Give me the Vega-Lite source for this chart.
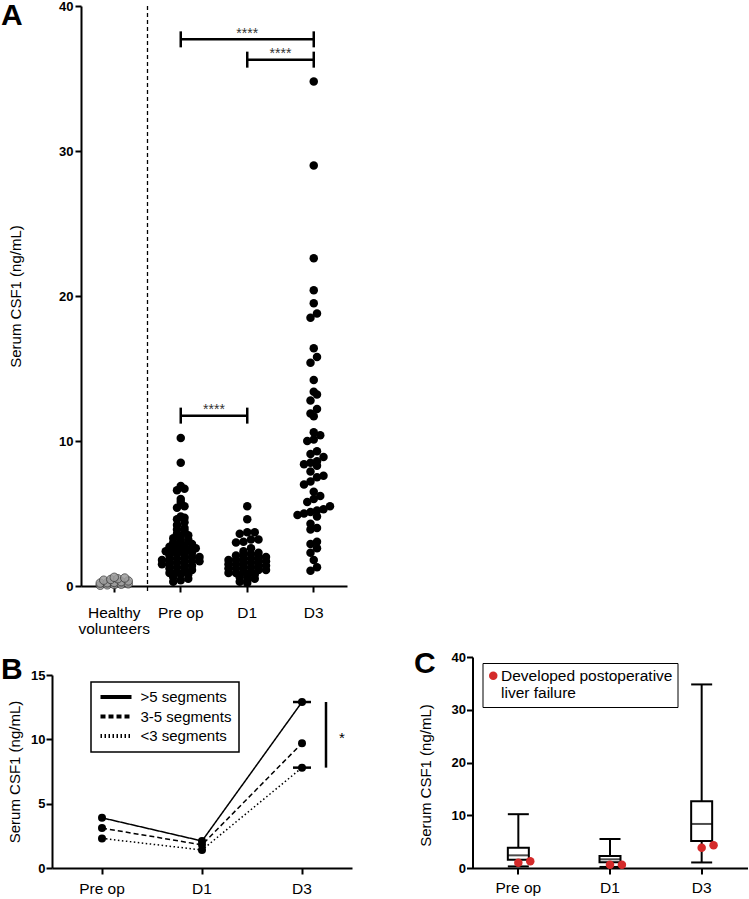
{
  "$schema": "https://vega.github.io/schema/vega-lite/v6.json",
  "padding": {"left": 1, "top": 0, "right": 0, "bottom": 2},
  "background": "white",
  "datasets": {
    "csf1": [
      {"group": "Healthy volunteers", "value": 0.05}, {"group": "Healthy volunteers", "value": 0.08}, {"group": "Healthy volunteers", "value": 0.1}, {"group": "Healthy volunteers", "value": 0.12}, {"group": "Healthy volunteers", "value": 0.15}, {"group": "Healthy volunteers", "value": 0.2}, {"group": "Healthy volunteers", "value": 0.22}, {"group": "Healthy volunteers", "value": 0.25}, {"group": "Healthy volunteers", "value": 0.3}, {"group": "Healthy volunteers", "value": 0.35}, {"group": "Healthy volunteers", "value": 0.4}, {"group": "Healthy volunteers", "value": 0.45}, {"group": "Healthy volunteers", "value": 0.5}, {"group": "Healthy volunteers", "value": 0.55}, {"group": "Healthy volunteers", "value": 0.6},
      {"group": "Pre op", "value": 0.3}, {"group": "Pre op", "value": 0.4}, {"group": "Pre op", "value": 0.5}, {"group": "Pre op", "value": 0.6}, {"group": "Pre op", "value": 0.8}, {"group": "Pre op", "value": 0.8}, {"group": "Pre op", "value": 0.9}, {"group": "Pre op", "value": 1.0}, {"group": "Pre op", "value": 1.0}, {"group": "Pre op", "value": 1.1},
      {"group": "Pre op", "value": 1.2}, {"group": "Pre op", "value": 1.3}, {"group": "Pre op", "value": 1.3}, {"group": "Pre op", "value": 1.4}, {"group": "Pre op", "value": 1.5}, {"group": "Pre op", "value": 1.5}, {"group": "Pre op", "value": 1.6}, {"group": "Pre op", "value": 1.6}, {"group": "Pre op", "value": 1.7}, {"group": "Pre op", "value": 1.7},
      {"group": "Pre op", "value": 1.8}, {"group": "Pre op", "value": 1.8}, {"group": "Pre op", "value": 1.9}, {"group": "Pre op", "value": 1.9}, {"group": "Pre op", "value": 2.0}, {"group": "Pre op", "value": 2.0}, {"group": "Pre op", "value": 2.1}, {"group": "Pre op", "value": 2.2}, {"group": "Pre op", "value": 2.2}, {"group": "Pre op", "value": 2.3},
      {"group": "Pre op", "value": 2.4}, {"group": "Pre op", "value": 2.4}, {"group": "Pre op", "value": 2.5}, {"group": "Pre op", "value": 2.5}, {"group": "Pre op", "value": 2.6}, {"group": "Pre op", "value": 2.7}, {"group": "Pre op", "value": 2.7}, {"group": "Pre op", "value": 2.8}, {"group": "Pre op", "value": 2.9}, {"group": "Pre op", "value": 3.0},
      {"group": "Pre op", "value": 3.1}, {"group": "Pre op", "value": 3.2}, {"group": "Pre op", "value": 3.3}, {"group": "Pre op", "value": 3.4}, {"group": "Pre op", "value": 3.5}, {"group": "Pre op", "value": 3.6}, {"group": "Pre op", "value": 3.8}, {"group": "Pre op", "value": 3.9}, {"group": "Pre op", "value": 4.0}, {"group": "Pre op", "value": 4.2},
      {"group": "Pre op", "value": 4.4}, {"group": "Pre op", "value": 4.6}, {"group": "Pre op", "value": 4.7}, {"group": "Pre op", "value": 4.8}, {"group": "Pre op", "value": 5.4}, {"group": "Pre op", "value": 5.5}, {"group": "Pre op", "value": 5.8}, {"group": "Pre op", "value": 6.0}, {"group": "Pre op", "value": 6.6}, {"group": "Pre op", "value": 6.7},
      {"group": "Pre op", "value": 6.9}, {"group": "Pre op", "value": 8.5}, {"group": "Pre op", "value": 10.2},
      {"group": "D1", "value": 0.2}, {"group": "D1", "value": 0.3}, {"group": "D1", "value": 0.4}, {"group": "D1", "value": 0.5}, {"group": "D1", "value": 0.6}, {"group": "D1", "value": 0.7}, {"group": "D1", "value": 0.8}, {"group": "D1", "value": 0.9}, {"group": "D1", "value": 0.9}, {"group": "D1", "value": 1.0},
      {"group": "D1", "value": 1.0}, {"group": "D1", "value": 1.1}, {"group": "D1", "value": 1.1}, {"group": "D1", "value": 1.2}, {"group": "D1", "value": 1.2}, {"group": "D1", "value": 1.3}, {"group": "D1", "value": 1.3}, {"group": "D1", "value": 1.4}, {"group": "D1", "value": 1.4}, {"group": "D1", "value": 1.5},
      {"group": "D1", "value": 1.5}, {"group": "D1", "value": 1.6}, {"group": "D1", "value": 1.6}, {"group": "D1", "value": 1.7}, {"group": "D1", "value": 1.7}, {"group": "D1", "value": 1.8}, {"group": "D1", "value": 1.8}, {"group": "D1", "value": 1.9}, {"group": "D1", "value": 1.9}, {"group": "D1", "value": 2.0},
      {"group": "D1", "value": 2.0}, {"group": "D1", "value": 2.1}, {"group": "D1", "value": 2.2}, {"group": "D1", "value": 2.2}, {"group": "D1", "value": 2.3}, {"group": "D1", "value": 2.4}, {"group": "D1", "value": 2.6}, {"group": "D1", "value": 3.0}, {"group": "D1", "value": 3.05}, {"group": "D1", "value": 3.2},
      {"group": "D1", "value": 3.2}, {"group": "D1", "value": 3.6}, {"group": "D1", "value": 3.7}, {"group": "D1", "value": 3.7}, {"group": "D1", "value": 4.6}, {"group": "D1", "value": 5.5},
      {"group": "D3", "value": 1.05}, {"group": "D3", "value": 1.3}, {"group": "D3", "value": 1.8}, {"group": "D3", "value": 2.3}, {"group": "D3", "value": 2.6}, {"group": "D3", "value": 2.9}, {"group": "D3", "value": 3.05}, {"group": "D3", "value": 3.9}, {"group": "D3", "value": 4.0}, {"group": "D3", "value": 4.3},
      {"group": "D3", "value": 4.8}, {"group": "D3", "value": 4.9}, {"group": "D3", "value": 5.0}, {"group": "D3", "value": 5.1}, {"group": "D3", "value": 5.2}, {"group": "D3", "value": 5.3}, {"group": "D3", "value": 5.5}, {"group": "D3", "value": 5.8}, {"group": "D3", "value": 6.0}, {"group": "D3", "value": 6.2},
      {"group": "D3", "value": 6.5}, {"group": "D3", "value": 7.0}, {"group": "D3", "value": 7.2}, {"group": "D3", "value": 7.5}, {"group": "D3", "value": 7.6}, {"group": "D3", "value": 7.9}, {"group": "D3", "value": 8.3}, {"group": "D3", "value": 8.4}, {"group": "D3", "value": 8.5}, {"group": "D3", "value": 8.6},
      {"group": "D3", "value": 8.9}, {"group": "D3", "value": 9.1}, {"group": "D3", "value": 9.3}, {"group": "D3", "value": 10.0}, {"group": "D3", "value": 10.1}, {"group": "D3", "value": 10.4}, {"group": "D3", "value": 10.6}, {"group": "D3", "value": 11.7}, {"group": "D3", "value": 11.9}, {"group": "D3", "value": 12.2},
      {"group": "D3", "value": 12.8}, {"group": "D3", "value": 13.2}, {"group": "D3", "value": 13.4}, {"group": "D3", "value": 14.2}, {"group": "D3", "value": 15.4}, {"group": "D3", "value": 15.8}, {"group": "D3", "value": 16.4}, {"group": "D3", "value": 18.5}, {"group": "D3", "value": 18.8}, {"group": "D3", "value": 19.5},
      {"group": "D3", "value": 20.4}, {"group": "D3", "value": 22.6}, {"group": "D3", "value": 29.0}, {"group": "D3", "value": 34.8}
    ],
    "brackets": [
      {"from": "Pre op", "to": "D3", "mid": "D1", "y": 37.7, "label": "****", "span": "wide"},
      {"from": "D1", "to": "D3", "mid": "D3", "y": 36.3, "label": "****", "span": "adjacent"},
      {"from": "Pre op", "to": "D1", "mid": "D1", "y": 11.75, "label": "****", "span": "adjacent"}
    ],
    "segments": [
      {"time": "Pre op", "segments": ">5 segments", "value": 3.9},
      {"time": "D1", "segments": ">5 segments", "value": 2.1},
      {"time": "D3", "segments": ">5 segments", "value": 12.9},
      {"time": "Pre op", "segments": "3-5 segments", "value": 3.1},
      {"time": "D1", "segments": "3-5 segments", "value": 1.8},
      {"time": "D3", "segments": "3-5 segments", "value": 9.7},
      {"time": "Pre op", "segments": "<3 segments", "value": 2.3},
      {"time": "D1", "segments": "<3 segments", "value": 1.4},
      {"time": "D3", "segments": "<3 segments", "value": 7.8}
    ],
    "failure": [
      {"group": "Pre op", "patient": 1, "value": 1.0, "status": "Developed postoperative liver failure"},
      {"group": "Pre op", "patient": 2, "value": 1.3, "status": "Developed postoperative liver failure"},
      {"group": "D1", "patient": 1, "value": 0.6, "status": "Developed postoperative liver failure"},
      {"group": "D1", "patient": 2, "value": 0.6, "status": "Developed postoperative liver failure"},
      {"group": "D3", "patient": 1, "value": 3.85, "status": "Developed postoperative liver failure"},
      {"group": "D3", "patient": 2, "value": 4.3, "status": "Developed postoperative liver failure"}
    ]
  },
  "columns": 1,
  "align": "none",
  "spacing": {"row": 12, "column": 0},
  "resolve": {
    "scale": {"color": "independent", "strokeDash": "independent", "xOffset": "independent"},
    "legend": {"color": "independent", "strokeDash": "independent"}
  },
  "concat": [
    {
      "width": 295,
      "height": 580,
      "resolve": {"scale": {"xOffset": "independent"}},
      "layer": [
        {
          "data": {"name": "csf1"},
          "transform": [
            {"filter": "datum.group === 'Pre op' || datum.group === 'D1'"},
            {"bin": {"step": 0.3}, "field": "value", "as": "vbin"},
            {"window": [{"op": "count", "as": "one"}], "frame": [0, 0]},
            {"stack": "one", "groupby": ["group", "vbin"], "sort": [{"field": "value", "order": "ascending"}], "offset": "center", "as": ["s0", "s1"]}
          ],
          "mark": {"type": "circle", "size": 72, "color": "black", "opacity": 1},
          "encoding": {
            "x": {
              "field": "group", "type": "nominal",
              "scale": {"domain": ["Healthy volunteers", "Pre op", "D1", "D3"], "range": [29, 295], "paddingInner": 0, "paddingOuter": 0},
              "axis": {"title": null, "labelExpr": "datum.value == 'Healthy volunteers' ? ['Healthy', 'volunteers'] : datum.value", "labelPadding": 13, "labelLineHeight": 16}
            },
            "xOffset": {"field": "s0", "type": "quantitative", "scale": {"domain": [-1.93, 6.93], "range": [0, 66.5]}},
            "y": {
              "field": "value", "type": "quantitative",
              "scale": {"domain": [0, 40], "nice": false, "padding": 0},
              "axis": {"values": [0, 10, 20, 30, 40], "title": "Serum CSF1 (ng/mL)", "titlePadding": 35, "offset": -29}
            }
          }
        },
        {
          "data": {"name": "csf1"},
          "transform": [
            {"filter": "datum.group === 'D3'"},
            {"bin": {"step": 0.7}, "field": "value", "as": "vbin"},
            {"window": [{"op": "count", "as": "one"}], "frame": [0, 0]},
            {"stack": "one", "groupby": ["group", "vbin"], "sort": [{"field": "value", "order": "ascending"}], "offset": "center", "as": ["s0", "s1"]}
          ],
          "mark": {"type": "circle", "size": 72, "color": "black", "opacity": 1},
          "encoding": {
            "x": {
              "field": "group", "type": "nominal",
              "axis": {"title": null, "labelExpr": "datum.value == 'Healthy volunteers' ? ['Healthy', 'volunteers'] : datum.value", "labelPadding": 13, "labelLineHeight": 16}
            },
            "xOffset": {"field": "s0", "type": "quantitative", "scale": {"domain": [-2.615, 7.615], "range": [0, 66.5]}},
            "y": {
              "field": "value", "type": "quantitative",
              "axis": {"values": [0, 10, 20, 30, 40], "title": "Serum CSF1 (ng/mL)", "titlePadding": 35, "offset": -29}
            }
          }
        },
        {
          "data": {"name": "csf1"},
          "transform": [
            {"filter": "datum.group === 'Healthy volunteers'"},
            {"bin": {"step": 0.2}, "field": "value", "as": "vbin"},
            {"window": [{"op": "count", "as": "one"}], "frame": [0, 0]},
            {"stack": "one", "groupby": ["group", "vbin"], "sort": [{"field": "value", "order": "ascending"}], "offset": "center", "as": ["s0", "s1"]}
          ],
          "mark": {"type": "circle", "size": 72, "fill": "#9c9c9c", "stroke": "#3a3a3a", "strokeWidth": 0.9, "opacity": 0.85},
          "encoding": {
            "x": {
              "field": "group", "type": "nominal",
              "axis": {"title": null, "labelExpr": "datum.value == 'Healthy volunteers' ? ['Healthy', 'volunteers'] : datum.value", "labelPadding": 13, "labelLineHeight": 16}
            },
            "xOffset": {"field": "s0", "type": "quantitative", "scale": {"domain": [-2.75, 6.75], "range": [0, 66.5]}},
            "y": {
              "field": "value", "type": "quantitative",
              "axis": {"values": [0, 10, 20, 30, 40], "title": "Serum CSF1 (ng/mL)", "titlePadding": 35, "offset": -29}
            }
          }
        },
        {
          "data": {"values": [{}]},
          "mark": {"type": "rule", "strokeDash": [4, 3], "strokeWidth": 1.3, "color": "black"},
          "encoding": {
            "x": {
              "datum": "Pre op", "type": "nominal", "bandPosition": 0,
              "axis": {"title": null, "labelExpr": "datum.value == 'Healthy volunteers' ? ['Healthy', 'volunteers'] : datum.value", "labelPadding": 13, "labelLineHeight": 16}
            },
            "y": {
              "datum": 40, "type": "quantitative",
              "axis": {"values": [0, 10, 20, 30, 40], "title": "Serum CSF1 (ng/mL)", "titlePadding": 35, "offset": -29}
            },
            "y2": {"datum": -0.45}
          }
        },
        {
          "data": {"values": [{}]},
          "mark": {"type": "text", "text": "A", "fontSize": 30, "fontWeight": "bold", "align": "left", "baseline": "alphabetic", "dx": -80, "dy": 19, "color": "black"},
          "encoding": {
            "x": {
              "datum": "Healthy volunteers", "type": "nominal", "bandPosition": 0,
              "axis": {"title": null, "labelExpr": "datum.value == 'Healthy volunteers' ? ['Healthy', 'volunteers'] : datum.value", "labelPadding": 13, "labelLineHeight": 16}
            },
            "y": {
              "datum": 40, "type": "quantitative",
              "axis": {"values": [0, 10, 20, 30, 40], "title": "Serum CSF1 (ng/mL)", "titlePadding": 35, "offset": -29}
            }
          }
        },
        {
          "data": {"name": "brackets"},
          "mark": {"type": "rule", "strokeWidth": 2.5, "color": "black"},
          "encoding": {
            "x": {
              "field": "from", "type": "nominal", "bandPosition": 0.5,
              "axis": {"title": null, "labelExpr": "datum.value == 'Healthy volunteers' ? ['Healthy', 'volunteers'] : datum.value", "labelPadding": 13, "labelLineHeight": 16}
            },
            "x2": {"field": "to"},
            "y": {
              "field": "y", "type": "quantitative",
              "axis": {"values": [0, 10, 20, 30, 40], "title": "Serum CSF1 (ng/mL)", "titlePadding": 35, "offset": -29}
            }
          }
        },
        {
          "data": {"name": "brackets"},
          "mark": {"type": "tick", "orient": "vertical", "size": 16, "thickness": 2.5, "color": "black", "opacity": 1},
          "encoding": {
            "x": {
              "field": "from", "type": "nominal",
              "axis": {"title": null, "labelExpr": "datum.value == 'Healthy volunteers' ? ['Healthy', 'volunteers'] : datum.value", "labelPadding": 13, "labelLineHeight": 16}
            },
            "y": {
              "field": "y", "type": "quantitative",
              "axis": {"values": [0, 10, 20, 30, 40], "title": "Serum CSF1 (ng/mL)", "titlePadding": 35, "offset": -29}
            }
          }
        },
        {
          "data": {"name": "brackets"},
          "mark": {"type": "tick", "orient": "vertical", "size": 16, "thickness": 2.5, "color": "black", "opacity": 1},
          "encoding": {
            "x": {
              "field": "to", "type": "nominal",
              "axis": {"title": null, "labelExpr": "datum.value == 'Healthy volunteers' ? ['Healthy', 'volunteers'] : datum.value", "labelPadding": 13, "labelLineHeight": 16}
            },
            "y": {
              "field": "y", "type": "quantitative",
              "axis": {"values": [0, 10, 20, 30, 40], "title": "Serum CSF1 (ng/mL)", "titlePadding": 35, "offset": -29}
            }
          }
        },
        {
          "data": {"name": "brackets"},
          "transform": [{"filter": "datum.span === 'wide'"}],
          "mark": {"type": "text", "fontSize": 14, "baseline": "alphabetic", "dy": -1.5, "color": "#333"},
          "encoding": {
            "x": {
              "field": "mid", "type": "nominal", "bandPosition": 0.5,
              "axis": {"title": null, "labelExpr": "datum.value == 'Healthy volunteers' ? ['Healthy', 'volunteers'] : datum.value", "labelPadding": 13, "labelLineHeight": 16}
            },
            "y": {
              "field": "y", "type": "quantitative",
              "axis": {"values": [0, 10, 20, 30, 40], "title": "Serum CSF1 (ng/mL)", "titlePadding": 35, "offset": -29}
            },
            "text": {"field": "label"}
          }
        },
        {
          "data": {"name": "brackets"},
          "transform": [{"filter": "datum.span === 'adjacent'"}],
          "mark": {"type": "text", "fontSize": 14, "baseline": "alphabetic", "dy": -1.5, "color": "#333"},
          "encoding": {
            "x": {
              "field": "mid", "type": "nominal", "bandPosition": 0,
              "axis": {"title": null, "labelExpr": "datum.value == 'Healthy volunteers' ? ['Healthy', 'volunteers'] : datum.value", "labelPadding": 13, "labelLineHeight": 16}
            },
            "y": {
              "field": "y", "type": "quantitative",
              "axis": {"values": [0, 10, 20, 30, 40], "title": "Serum CSF1 (ng/mL)", "titlePadding": 35, "offset": -29}
            },
            "text": {"field": "label"}
          }
        }
      ]
    },
    {
      "columns": 2,
      "align": "none",
      "spacing": {"column": 61.5, "row": 0},
      "resolve": {
        "scale": {"color": "independent", "strokeDash": "independent"},
        "legend": {"color": "independent", "strokeDash": "independent"}
      },
      "concat": [
        {
          "width": 300,
          "height": 211,
          "data": {"name": "segments"},
          "layer": [
            {
              "mark": {"type": "line", "color": "black", "strokeWidth": 1.5},
              "encoding": {
                "x": {
                  "field": "time", "type": "nominal",
                  "scale": {"domain": ["Pre op", "D1", "D3"], "paddingInner": 0, "paddingOuter": 0},
                  "axis": {"title": null, "labelPadding": 7}
                },
                "y": {
                  "field": "value", "type": "quantitative",
                  "scale": {"domain": [0, 15], "range": [211, 18], "nice": false, "padding": 0},
                  "axis": {"values": [0, 5, 10, 15], "title": "Serum CSF1 (ng/mL)", "titlePadding": 8, "labelPadding": 1}
                },
                "strokeDash": {
                  "field": "segments", "type": "nominal",
                  "scale": {"domain": [">5 segments", "3-5 segments", "<3 segments"], "range": [[1, 0], [5, 3], [1.5, 2.5]]},
                  "legend": {
                    "title": null, "orient": "none", "legendX": 39, "legendY": 25,
                    "symbolType": "stroke", "symbolSize": 961, "symbolStrokeWidth": 4, "symbolStrokeColor": "black",
                    "clipHeight": 15, "labelOffset": 7,
                    "labelFontSize": 15, "rowPadding": 3.5, "padding": 7.5, "strokeColor": "black",
                    "labelColor": "black",
                    "encode": {
                      "legend": {"update": {"strokeWidth": {"value": 1.5}}},
                      "symbols": {"update": {"strokeDash": {"signal": "datum.value === '3-5 segments' ? [13, 5] : datum.value === '<3 segments' ? [5, 4] : [1, 0]"}}}
                    }
                  }
                }
              }
            },
            {
              "mark": {"type": "circle", "color": "black", "size": 64, "opacity": 1},
              "encoding": {
                "x": {"field": "time", "type": "nominal", "axis": {"title": null, "labelPadding": 7}},
                "y": {"field": "value", "type": "quantitative", "axis": {"values": [0, 5, 10, 15], "title": "Serum CSF1 (ng/mL)", "titlePadding": 8, "labelPadding": 1}}
              }
            },
            {
              "transform": [{"filter": "datum.time === 'D3' && datum.segments !== '3-5 segments'"}],
              "mark": {"type": "tick", "orient": "horizontal", "size": 18, "thickness": 2.5, "color": "black", "opacity": 1},
              "encoding": {
                "x": {"field": "time", "type": "nominal", "bandPosition": 0.74, "axis": {"title": null, "labelPadding": 7}},
                "y": {"field": "value", "type": "quantitative", "axis": {"values": [0, 5, 10, 15], "title": "Serum CSF1 (ng/mL)", "titlePadding": 8, "labelPadding": 1}}
              }
            },
            {
              "transform": [{"filter": "datum.time === 'D3' && datum.segments !== '3-5 segments'"}],
              "mark": {"type": "rule", "strokeWidth": 2.5, "color": "black"},
              "encoding": {
                "x": {"field": "time", "type": "nominal", "bandPosition": 0.74, "axis": {"title": null, "labelPadding": 7}},
                "y": {"aggregate": "min", "field": "value", "type": "quantitative", "axis": {"values": [0, 5, 10, 15], "title": "Serum CSF1 (ng/mL)", "titlePadding": 8, "labelPadding": 1}},
                "y2": {"aggregate": "max", "field": "value"}
              }
            },
            {
              "transform": [{"filter": "datum.time === 'D3' && datum.segments !== '3-5 segments'"}],
              "mark": {"type": "text", "fontSize": 15, "baseline": "alphabetic", "dy": 8, "color": "black"},
              "encoding": {
                "x": {"field": "time", "type": "nominal", "bandPosition": 0.9, "axis": {"title": null, "labelPadding": 7}},
                "y": {"aggregate": "mean", "field": "value", "type": "quantitative", "axis": {"values": [0, 5, 10, 15], "title": "Serum CSF1 (ng/mL)", "titlePadding": 8, "labelPadding": 1}},
                "text": {"value": "*"}
              }
            },
            {
              "data": {"values": [{}]},
              "mark": {"type": "text", "text": [" ", "B"], "lineHeight": 6, "fontSize": 30, "fontWeight": "bold", "align": "left", "baseline": "alphabetic", "dx": -51, "dy": -2, "color": "black"},
              "encoding": {
                "x": {"datum": "Pre op", "type": "nominal", "bandPosition": 0, "axis": {"title": null, "labelPadding": 7}},
                "y": {"datum": 15, "type": "quantitative", "axis": {"values": [0, 5, 10, 15], "title": "Serum CSF1 (ng/mL)", "titlePadding": 8, "labelPadding": 1}}
              }
            }
          ]
        },
        {
          "width": 275,
          "height": 211,
          "layer": [
            {
              "data": {"name": "csf1"},
              "transform": [{"filter": "datum.group !== 'Healthy volunteers'"}],
              "mark": {
                "type": "boxplot", "extent": "min-max", "size": 21,
                "box": {"fill": "white", "stroke": "black", "strokeWidth": 2},
                "median": {"color": "black", "thickness": 2},
                "rule": {"color": "black", "strokeWidth": 2},
                "ticks": {"color": "black", "size": 21, "thickness": 2}
              },
              "encoding": {
                "x": {
                  "field": "group", "type": "nominal",
                  "scale": {"domain": ["Pre op", "D1", "D3"], "paddingInner": 0, "paddingOuter": 0},
                  "axis": {"title": null, "labelPadding": 6}
                },
                "y": {
                  "field": "value", "type": "quantitative",
                  "scale": {"domain": [0, 40], "nice": false, "padding": 0},
                  "axis": {"values": [0, 10, 20, 30, 40], "title": "Serum CSF1 (ng/mL)", "titlePadding": 18, "labelPadding": 1, "titleY": 118}
                }
              }
            },
            {
              "data": {"name": "failure"},
              "transform": [{"filter": "datum.patient === 1"}],
              "mark": {"type": "circle", "size": 72, "opacity": 1},
              "encoding": {
                "x": {"field": "group", "type": "nominal", "bandPosition": 0.5, "axis": {"title": null, "labelPadding": 6}},
                "y": {"field": "value", "type": "quantitative", "axis": {"values": [0, 10, 20, 30, 40], "title": "Serum CSF1 (ng/mL)", "titlePadding": 18, "labelPadding": 1, "titleY": 118}},
                "color": {
                  "field": "status", "type": "nominal",
                  "scale": {"range": ["#d42a2a"]},
                  "legend": {
                    "title": null, "orient": "none", "legendX": 10, "legendY": 6,
                    "labelExpr": "['Developed postoperative', 'liver failure']",
                    "labelFontSize": 15.5, "labelLimit": 0, "labelColor": "black",
                    "symbolType": "circle", "symbolSize": 72, "symbolStrokeWidth": 0,
                    "padding": 5, "labelOffset": 0, "symbolOffset": -2, "strokeColor": "black",
                    "encode": {"legend": {"update": {"strokeWidth": {"value": 1.5}}}}
                  }
                }
              }
            },
            {
              "data": {"name": "failure"},
              "transform": [{"filter": "datum.patient === 2"}],
              "mark": {"type": "circle", "size": 72, "opacity": 1},
              "encoding": {
                "x": {"field": "group", "type": "nominal", "bandPosition": 0.63, "axis": {"title": null, "labelPadding": 6}},
                "y": {"field": "value", "type": "quantitative", "axis": {"values": [0, 10, 20, 30, 40], "title": "Serum CSF1 (ng/mL)", "titlePadding": 18, "labelPadding": 1, "titleY": 118}},
                "color": {"field": "status", "type": "nominal"}
              }
            },
            {
              "data": {"values": [{}]},
              "mark": {"type": "text", "text": "C", "fontSize": 30, "fontWeight": "bold", "align": "left", "baseline": "alphabetic", "dx": -58.5, "dy": 16, "color": "black"},
              "encoding": {
                "x": {"datum": "Pre op", "type": "nominal", "bandPosition": 0, "axis": {"title": null, "labelPadding": 6}},
                "y": {"datum": 40, "type": "quantitative", "axis": {"values": [0, 10, 20, 30, 40], "title": "Serum CSF1 (ng/mL)", "titlePadding": 18, "labelPadding": 1, "titleY": 118}}
              }
            }
          ]
        }
      ]
    }
  ],
  "config": {
    "font": "Liberation Sans",
    "view": {"stroke": null},
    "axis": {
      "grid": false, "domainColor": "black", "domainWidth": 2, "tickColor": "black", "tickWidth": 2, "tickSize": 6,
      "labelColor": "black", "titleColor": "black", "titleFontWeight": "normal", "titleFontSize": 15, "labelFontSize": 15.5
    },
    "axisY": {"labelFontWeight": "bold", "labelFontSize": 13, "labelPadding": 2},
    "axisX": {"labelAngle": 0}
  }
}
